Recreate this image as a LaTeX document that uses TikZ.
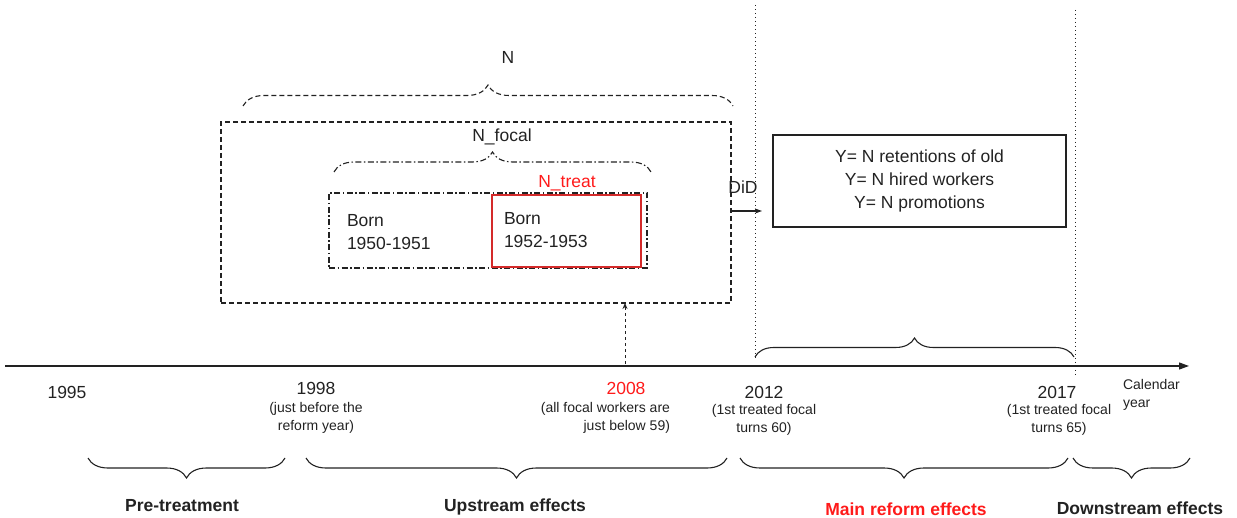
\documentclass[tikz,border=0pt]{standalone}
\usepackage{fontspec}
\setmainfont{Liberation Sans}
\usetikzlibrary{decorations.pathreplacing,arrows.meta}
\definecolor{ink}{HTML}{222222}
\definecolor{redtxt}{HTML}{FF1A1A}
\definecolor{redbox}{HTML}{D42A2A}
\begin{document}
\begin{tikzpicture}[x=1pt,y=1pt,
  every node/.style={font=\fontsize{17.5}{23}\selectfont, inner sep=0pt, outer sep=0pt, text=ink},
  small/.style={font=\fontsize{14}{18}\selectfont},
  boldlbl/.style={font=\fontsize{17.5}{23}\selectfont\bfseries},
  ln/.style={line width=1.1pt, draw=ink},
  dashbox/.style={ln, dash pattern=on 5pt off 3pt},
  dashdot/.style={ln, dash pattern=on 6pt off 2.5pt on 1.5pt off 2.5pt},
  dotline/.style={draw=ink, line width=1pt, dash pattern=on 1.2pt off 2.8pt},
  bracedown/.style={ln, decorate, decoration={brace, mirror, amplitude=20pt}},
  braceup/.style={ln, decorate, decoration={brace, amplitude=#1}},
]
\useasboundingbox (0,0) rectangle (1237,-518);

% ---- boxes on top
\node[dashbox, minimum width=510pt, minimum height=181pt] (boxN) at (476,-212.5) {};
\node[dashdot, minimum width=318pt, minimum height=75pt] (boxF) at (488,-230.5) {};
\node[draw=redbox, line width=1.1pt, minimum width=149pt, minimum height=72pt] (boxT) at (566.5,-231) {};
\node[anchor=west, align=left] (bornA) at (347,-232) {Born\\1950-1951};
\node[anchor=west, align=left] (bornB) at (504,-230) {Born\\1952-1953};
\node (lN) at (508,-57) {N};
\node (lF) at (502,-137) {N\_focal};
\node[text=redtxt] (lT) at (567,-183) {N\_treat};
\node (did) at (743,-187) {DiD};
\node[ln, minimum width=293pt, minimum height=92pt, align=center] (boxY) at (919.5,-181)
  {Y= N retentions of old\\Y= N hired workers\\Y= N promotions};

% ---- braces above boxes
\coordinate (bN1) at (243,-106);
\coordinate (bN2) at (733,-106);
\draw[braceup=21pt, dash pattern=on 5pt off 3pt] (bN1) -- (bN2);
\coordinate (bF1) at (334,-172);
\coordinate (bF2) at (651,-172);
\draw[braceup=20pt, dash pattern=on 6pt off 2.5pt on 1.5pt off 2.5pt] (bF1) -- (bF2);

% ---- DiD arrow
\coordinate (didEnd) at (762,-211);
\draw[ln, -{Stealth[length=7pt,width=5pt]}] (boxN.east |- didEnd) -- (didEnd);

% ---- dotted verticals
\coordinate (v1a) at (755,-5);
\coordinate (v1b) at (755,-358);
\coordinate (v2a) at (1075,-10);
\coordinate (v2b) at (1075,-376);
\draw[dotline] (v1a) -- (v1b);
\draw[dotline] (v2a) -- (v2b);

% ---- timeline
\coordinate (t0) at (5,-366);
\coordinate (t1) at (1189,-366);
\draw[ln, line width=1.2pt, -{Triangle[length=10pt,width=7pt]}] (t0) -- (t1);

% ---- brace above timeline
\coordinate (bm1) at (755,-357);
\coordinate (bm2) at (1074,-357);
\draw[braceup=19pt] (bm1) -- (bm2);

% ---- dashed arrow from 2008
\coordinate (a2008) at (625,-364);
\draw[draw=ink, line width=1pt, dash pattern=on 3pt off 3pt, -{Stealth[length=6pt,width=5pt]}] (a2008) -- (a2008 |- boxN.south);

% ---- year labels
\node (y1995) at (67,-392) {1995};
\node (y1998) at (316,-388) {1998};
\node[small, align=center] (n1998) at (316,-418) {(just before the\\reform year)};
\node[text=redtxt] (y2008) at (626,-388) {2008};
\node[small, align=right, anchor=east] (n2008) at (670,-418) {(all focal workers are\\just below 59)};
\node (y2012) at (764,-392) {2012};
\node[small, align=center] (n2012) at (764,-420) {(1st treated focal\\turns 60)};
\node (y2017) at (1057,-392) {2017};
\node[small, align=center] (n2017) at (1059,-420) {(1st treated focal\\turns 65)};
\node[small, align=left, anchor=west] (cal) at (1123,-395) {Calendar\\year};

% ---- bottom braces
\coordinate (p1) at (88,-458);   \coordinate (p2) at (285,-458);
\coordinate (u1) at (306,-458);  \coordinate (u2) at (727,-458);
\coordinate (m1) at (740,-458);  \coordinate (m2) at (1068,-458);
\coordinate (d1) at (1073,-458); \coordinate (d2) at (1190,-458);
\draw[bracedown] (p1) -- (p2);
\draw[bracedown] (u1) -- (u2);
\draw[bracedown] (m1) -- (m2);
\draw[bracedown] (d1) -- (d2);

\node[boldlbl] (lPre) at (182,-506) {Pre-treatment};
\node[boldlbl] (lUp) at (515,-507) {Upstream effects};
\node[boldlbl, text=redtxt] (lMain) at (906,-509) {Main reform effects};
\node[boldlbl] (lDown) at (1140,-508) {Downstream effects};
\end{tikzpicture}
\end{document}
